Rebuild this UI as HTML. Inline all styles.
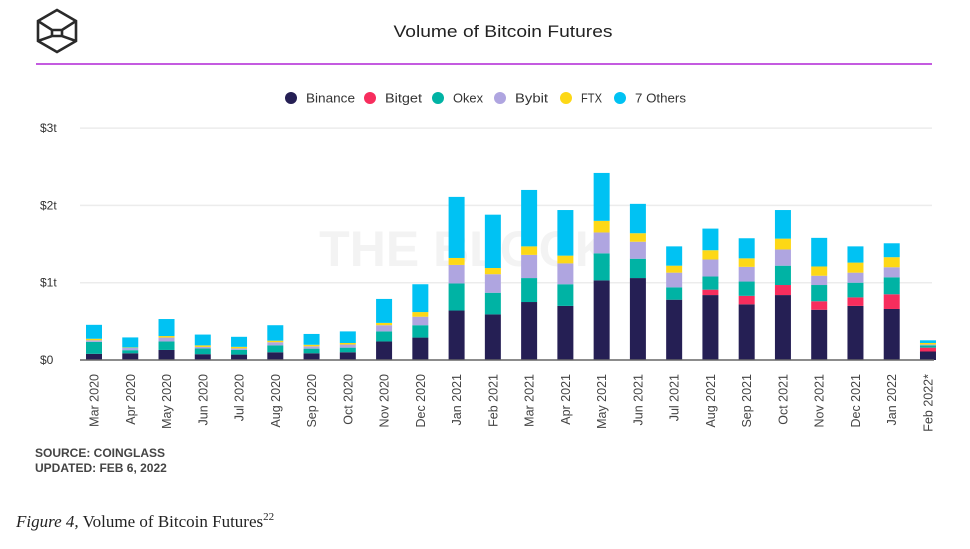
<!DOCTYPE html>
<html><head><meta charset="utf-8">
<style>
body{margin:0;background:#fff;width:970px;height:549px;overflow:hidden;font-family:"Liberation Sans",sans-serif}
svg{position:absolute;left:0;top:0}
</style></head>
<body>
<svg id="chart" width="970" height="549">
  <g fill="none" stroke="#2a2a2a" stroke-width="2.6">
    <polygon points="57,10 76,21 76,41 57,52 38,41 38,21"/>
    <polyline points="38,21 52,30 62,30 76,21"/><polyline points="38,41 52,36 62,36 76,41"/>
    <line x1="52" y1="30" x2="52" y2="36"/><line x1="62" y1="30" x2="62" y2="36"/>
  </g>
  <text x="503" y="37" text-anchor="middle" font-size="17" fill="#222" textLength="219" lengthAdjust="spacingAndGlyphs">Volume of Bitcoin Futures</text>
  <line x1="36" y1="64" x2="932" y2="64" stroke="#c45be0" stroke-width="2"/>
  <text x="465" y="266" text-anchor="middle" font-size="50" font-weight="bold" fill="#f3f3f3">THE BLOCK</text>
  <g id="legend"></g>
  <g id="grid"></g>
  <g id="bars"></g>
  <g id="xlabels"></g>
  <text x="35" y="457" font-size="12" font-weight="bold" fill="#444">SOURCE: COINGLASS</text>
  <text x="35" y="472" font-size="12" font-weight="bold" fill="#444">UPDATED: FEB 6, 2022</text>
  <text x="16" y="527" font-family="'Liberation Serif',serif" font-size="17" fill="#222"><tspan font-style="italic">Figure 4,</tspan> Volume of Bitcoin Futures<tspan font-size="11" dy="-7">22</tspan></text>
</svg>
<script>
const categories=["Mar 2020","Apr 2020","May 2020","Jun 2020","Jul 2020","Aug 2020","Sep 2020","Oct 2020","Nov 2020","Dec 2020","Jan 2021","Feb 2021","Mar 2021","Apr 2021","May 2021","Jun 2021","Jul 2021","Aug 2021","Sep 2021","Oct 2021","Nov 2021","Dec 2021","Jan 2022","Feb 2022*"];
const binance=[0.08,0.087,0.13,0.075,0.07,0.1,0.087,0.1,0.24,0.29,0.64,0.59,0.75,0.7,1.03,1.06,0.78,0.84,0.72,0.84,0.65,0.7,0.66,0.11];
const bitget=[0,0,0,0,0,0,0,0,0,0,0,0,0,0,0,0,0,0.07,0.11,0.13,0.11,0.11,0.19,0.05];
const okex=[0.155,0.04,0.11,0.074,0.06,0.09,0.06,0.06,0.13,0.16,0.35,0.28,0.31,0.28,0.35,0.25,0.16,0.17,0.185,0.25,0.21,0.19,0.22,0.03];
const bybit=[0.02,0.03,0.05,0.02,0.02,0.04,0.03,0.04,0.08,0.11,0.24,0.24,0.3,0.27,0.27,0.22,0.19,0.22,0.19,0.21,0.12,0.13,0.13,0.01];
const ftx=[0.02,0.005,0.02,0.02,0.02,0.02,0.02,0.02,0.03,0.06,0.09,0.08,0.11,0.1,0.15,0.11,0.09,0.12,0.11,0.14,0.12,0.13,0.13,0.02];
const others=[0.18,0.13,0.22,0.14,0.13,0.2,0.14,0.15,0.31,0.36,0.79,0.69,0.73,0.59,0.62,0.38,0.25,0.28,0.26,0.37,0.37,0.21,0.18,0.035];
const seriesNames=["Binance","Bitget","Okex","Bybit","FTX","7 Others"];
const yTicks=[0,1,2,3];
const yTickLabels=["$0","$1t","$2t","$3t"];
const series=[binance,bitget,okex,bybit,ftx,others];
const colors=["#251f54","#f72d5d","#00b3a4","#afa5e0","#fdd816","#00c2f3"];
const NS="http://www.w3.org/2000/svg";
const y0=360,pxPerT=77.3,x0=94,step=36.26,bw=16;
const yS=v=>y0-v*pxPerT;
const xS=i=>x0+i*step;
function mk(tag,attrs,parent){const e=document.createElementNS(NS,tag);for(const k in attrs)e.setAttribute(k,attrs[k]);parent.appendChild(e);return e;}
const grid=document.getElementById('grid');
yTicks.forEach((t,i)=>{
  if(t>0){const l=mk('line',{x1:80,x2:932,y1:yS(t),y2:yS(t),stroke:'#ececec','stroke-width':1.5},grid);
  
  }
  const tx=mk('text',{x:40,y:yS(t)+4,'font-size':12,fill:'#333'},grid);
  tx.textContent=yTickLabels[i];
  
  
});
const bars=document.getElementById('bars');
categories.forEach((c,i)=>{
  let acc=0;
  series.forEach((s,k)=>{
    const v=s[i];if(v<=0)return;
    const r=mk('rect',{x:xS(i)-bw/2,y:yS(acc+v),width:bw,height:v*pxPerT,fill:colors[k]},bars);
    
    
    acc+=v;
  });
});
const ax=mk('line',{x1:80,x2:934,y1:y0,y2:y0,stroke:'#666','stroke-width':1.5},bars);


const xl=document.getElementById('xlabels');
categories.forEach((c,i)=>{
  const t=mk('text',{x:0,y:0,'font-size':12.5,fill:'#444','text-anchor':'end',transform:`translate(${xS(i)+4.5},374) rotate(-90)`},xl);
  t.textContent=c;
  
  
});
const lg=document.getElementById('legend');
const lx=[291,370,438,500,566,620];
const lw=[49,37,30,33,21,51];
seriesNames.forEach((n,k)=>{
  const c=mk('circle',{cx:lx[k],cy:98,r:6,fill:colors[k]},lg);
  
  
  const t=mk('text',{x:lx[k]+15,y:102.5,'font-size':13,fill:'#333',textLength:lw[k],lengthAdjust:'spacingAndGlyphs'},lg);
  t.textContent=n;
  
  
});
</script>
</body></html>
